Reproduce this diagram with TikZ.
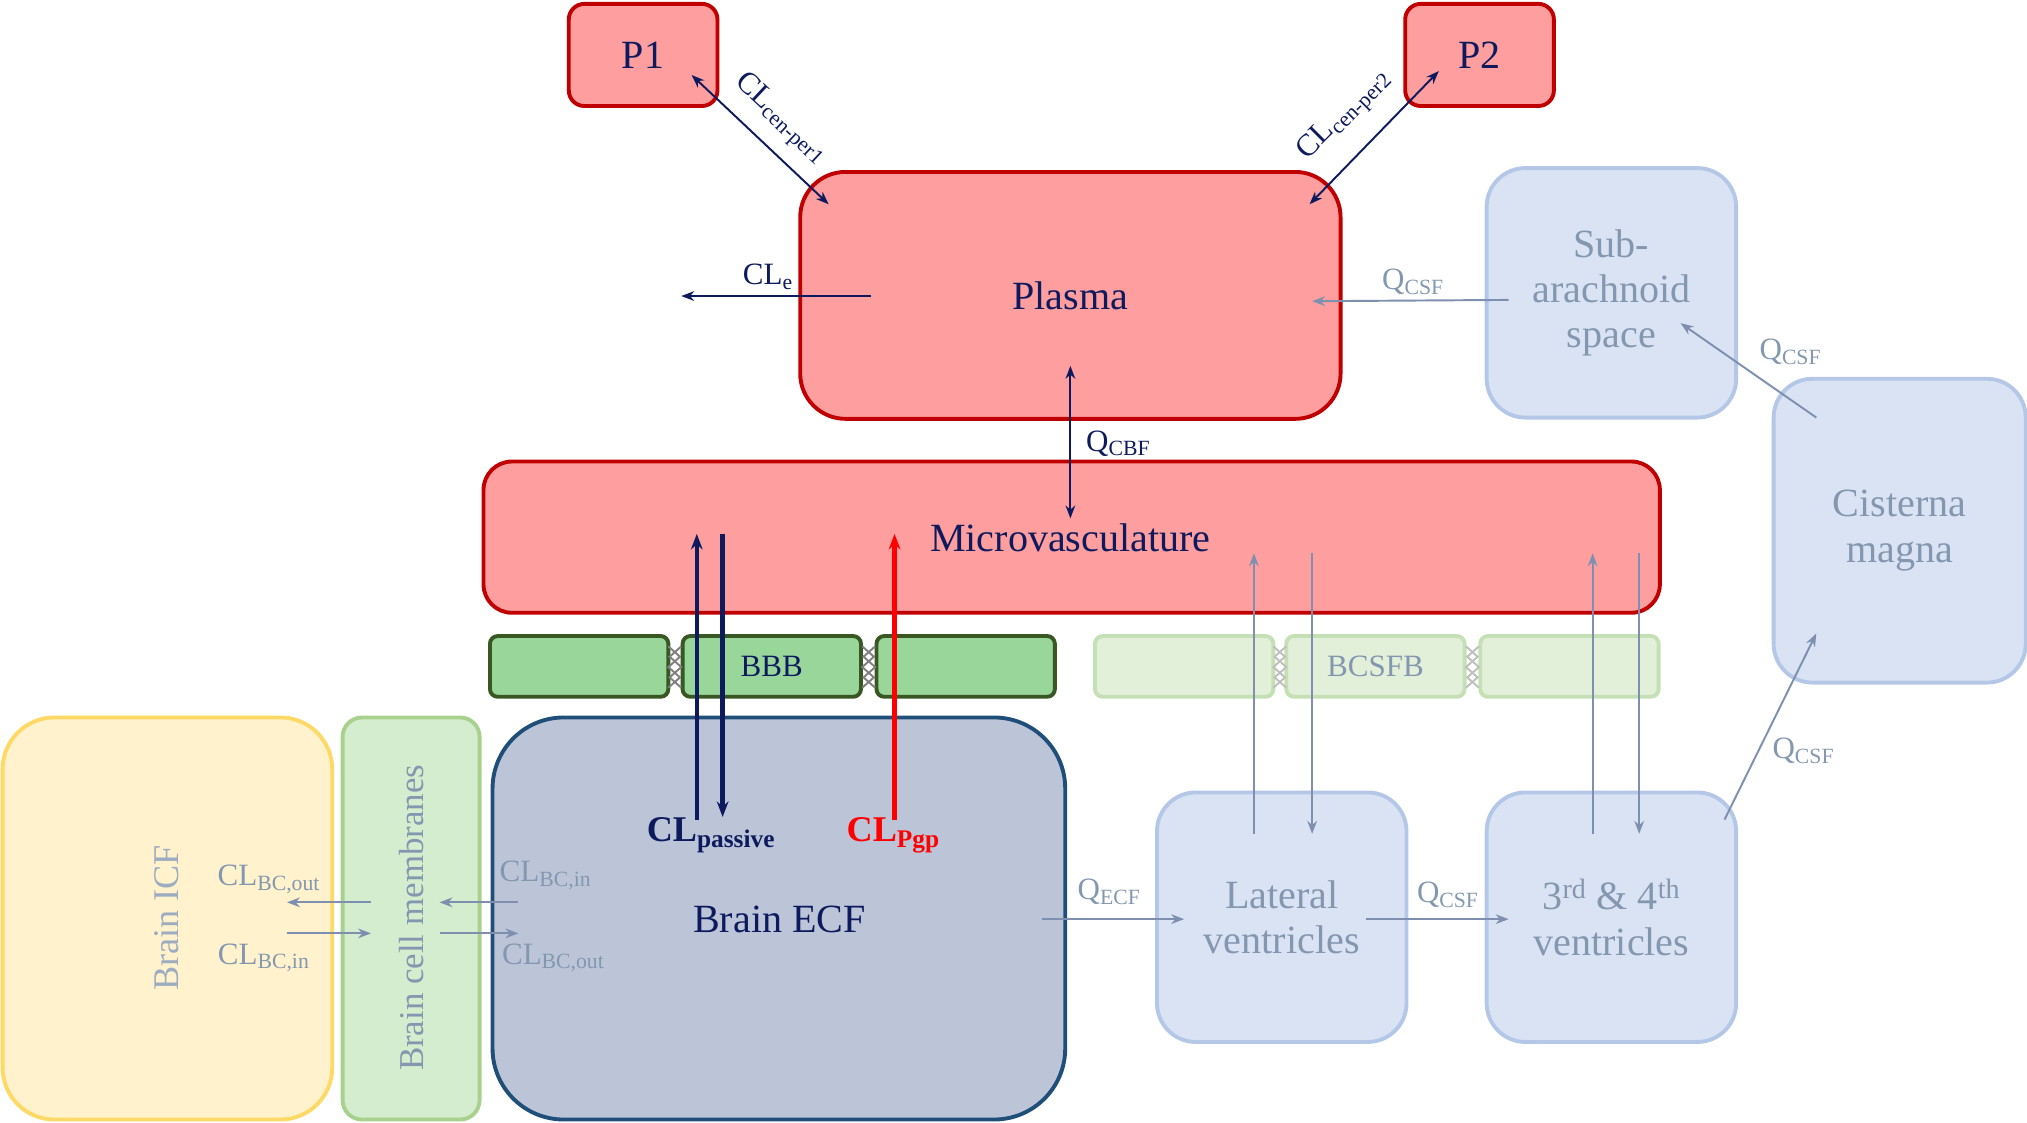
\documentclass[tikz,border=0pt]{standalone}
\usepackage{fontspec}
\setmainfont{Liberation Serif}
\usetikzlibrary{arrows.meta}
\definecolor{redf}{HTML}{FF9E9E}\definecolor{redb}{HTML}{C00000}
\definecolor{navy}{HTML}{0D1B5E}\definecolor{gb}{HTML}{7F8FB0}
\definecolor{gtext}{HTML}{8497B0}
\definecolor{dgf}{HTML}{99D699}\definecolor{dgb}{HTML}{385723}
\definecolor{lgf}{HTML}{E2F0D9}\definecolor{lgb}{HTML}{C5E0B4}
\definecolor{bluef}{HTML}{DAE3F3}\definecolor{blueb}{HTML}{B4C7E7}
\definecolor{ecff}{HTML}{BCC4D8}\definecolor{ecfb}{HTML}{1F4E79}
\definecolor{icff}{HTML}{FFF2CC}\definecolor{icfb}{HTML}{FFD966}
\definecolor{memf}{HTML}{D5EDCF}\definecolor{memb}{HTML}{A9D18E}
\tikzset{
 box/.style={draw,line width=3pt,inner sep=0pt,font=\fontsize{31}{35}\selectfont},
 red/.style={box,fill=redf,draw=redb,text=navy},
 lb/.style={box,fill=bluef,draw=blueb,text=gtext,align=center,rounded corners=30pt},
 cell/.style={draw,line width=3pt,rounded corners=6pt,minimum width=138pt,minimum height=47pt,font=\fontsize{24}{28}\selectfont},
 na/.style={-{Stealth[length=10pt]},line width=1.5pt,draw=navy},
 ga/.style={-{Stealth[length=10pt]},line width=1.5pt,draw=gb},
 lab/.style={font=\fontsize{24}{28}\selectfont,text=navy},
 glab/.style={font=\fontsize{24}{28}\selectfont,text=gtext},
}
\begin{document}
\begin{tikzpicture}[x=1pt,y=-1pt]
\useasboundingbox (0,0) rectangle (1568,868);
% boxes
\node[red,rounded corners=12pt,minimum width=115pt,minimum height=79pt] (p1) at (497.5,42.5) {P1};
\node[red,rounded corners=12pt,minimum width=115pt,minimum height=79pt] (p2) at (1144.5,42.5) {P2};
\node[red,rounded corners=35pt,minimum width=418pt,minimum height=191pt] (plasma) at (828,228.5) {Plasma};
\node[red,rounded corners=22pt,minimum width=910pt,minimum height=117pt] (micro) at (829,415.5) {};
\node[text=navy,font=\fontsize{31}{35}\selectfont] (microt) at (828,416) {Microvasculature};
\node[box,fill=icff,draw=icfb,rounded corners=40pt,minimum width=255pt,minimum height=311pt] (icf) at (129.5,710.5) {};
\node[rotate=90,text=gtext!80,font=\fontsize{28}{32}\selectfont] (icft) at (129,710) {Brain ICF};
\node[box,fill=memf,draw=memb,rounded corners=15pt,minimum width=106pt,minimum height=311pt] (mem) at (318,710.5) {};
\node[rotate=90,text=gtext,font=\fontsize{27}{31}\selectfont] (memt) at (318,710) {Brain cell membranes};
\node[box,fill=ecff,draw=ecfb,rounded corners=55pt,minimum width=443pt,minimum height=311pt] (ecf) at (602.5,710.5) {};
\node[text=navy,font=\fontsize{31}{35}\selectfont] (ecft) at (603,711) {Brain ECF};
\node[lb,minimum width=193pt,minimum height=193pt] (lat) at (991.5,709.5) {Lateral\\ventricles};
\node[lb,minimum width=193pt,minimum height=193pt] (v34) at (1246.5,709.5) {3\textsuperscript{rd} \& 4\textsuperscript{th}\\ventricles};
\node[lb,minimum width=193pt,minimum height=193pt] (sub) at (1246.5,226.5) {Sub-\\arachnoid\\space};
\node[lb,minimum width=195pt,minimum height=235pt] (cis) at (1469.5,410.5) {Cisterna\\magna};
% cells
\node[cell,fill=dgf,draw=dgb] (b1) at (448,515.5) {};
\node[cell,fill=dgf,draw=dgb,text=navy] (b2) at (597,515.5) {BBB};
\node[cell,fill=dgf,draw=dgb] (b3) at (747,515.5) {};
\node[cell,fill=lgf,draw=lgb] (c1) at (916,515.5) {};
\node[cell,fill=lgf,draw=lgb,text=gtext] (c2) at (1064,515.5) {BCSFB};
\node[cell,fill=lgf,draw=lgb] (c3) at (1214,515.5) {};
\foreach \x/\c in {522/gray,672/gray,990/gray!50,1139/gray!50}{
 \draw[\c,line width=1.5pt] (\x-5,500)--(\x+4,508)--(\x-5,516)--(\x+4,524)--(\x-5,532);
 \draw[\c,line width=1.5pt] (\x+5,500)--(\x-4,508)--(\x+5,516)--(\x-4,524)--(\x+5,532);}
% coordinates
\coordinate (a1) at (535,58); \coordinate (a2) at (641,158);
\coordinate (a3) at (1113,55); \coordinate (a4) at (1013,158);
\coordinate (e1) at (674,229); \coordinate (e2) at (527,229);
\coordinate (s1) at (1167,232); \coordinate (s2) at (1015,233);
\coordinate (k1) at (1405,323); \coordinate (k2) at (1300,250);
\coordinate (q1) at (828,283); \coordinate (q2) at (828,401);
\coordinate (pa1) at (539,634); \coordinate (pa2) at (539,413);
\coordinate (pb1) at (559,413); \coordinate (pb2) at (559,632);
\coordinate (g1) at (692,634); \coordinate (g2) at (692,413);
\coordinate (l1) at (970,645); \coordinate (l2) at (970,428);
\coordinate (l3) at (1015,428); \coordinate (l4) at (1015,645);
\coordinate (m1) at (1232,645); \coordinate (m2) at (1232,428);
\coordinate (m3) at (1268,428); \coordinate (m4) at (1268,645);
\coordinate (x1) at (806,711); \coordinate (x2) at (916,711);
\coordinate (y1) at (1057,711); \coordinate (y2) at (1167,711);
\coordinate (z1) at (1334,634); \coordinate (z2) at (1405,490);
\coordinate (n1) at (287,698); \coordinate (n2) at (222,698);
\coordinate (n3) at (222,722); \coordinate (n4) at (287,722);
\coordinate (o1) at (401,698); \coordinate (o2) at (340,698);
\coordinate (o3) at (340,722); \coordinate (o4) at (401,722);
% arrows
\draw[na,{Stealth[length=10pt]}-{Stealth[length=10pt]}] (a1)--(a2);
\draw[na,{Stealth[length=10pt]}-{Stealth[length=10pt]}] (a3)--(a4);
\draw[na] (e1)--(e2);
\draw[ga] (s1)--(s2);
\draw[ga] (k1)--(k2);
\draw[na,{Stealth[length=10pt]}-{Stealth[length=10pt]}] (q1)--(q2);
\draw[na,line width=3.5pt,-{Stealth[length=12pt]}] (pa1)--(pa2);
\draw[na,line width=3.5pt,-{Stealth[length=12pt]}] (pb1)--(pb2);
\draw[na,draw=red,line width=3.5pt,-{Stealth[length=12pt]}] (g1)--(g2);
\draw[ga] (l1)--(l2); \draw[ga] (l3)--(l4);
\draw[ga] (m1)--(m2); \draw[ga] (m3)--(m4);
\draw[ga] (x1)--(x2); \draw[ga] (y1)--(y2); \draw[ga] (z1)--(z2);
\draw[ga] (n1)--(n2); \draw[ga] (n3)--(n4);
\draw[ga] (o1)--(o2); \draw[ga] (o3)--(o4);
% labels
\node[lab,rotate=-43] (t1) at (604,92) {CL\textsubscript{cen-per1}};
\node[lab,rotate=45] (t2) at (1040,89) {CL\textsubscript{cen-per2}};
\node[lab] (t3) at (594,214) {CL\textsubscript{e}};
\node[glab] (t4) at (1093,218) {Q\textsubscript{CSF}};
\node[glab] (t5) at (1385,272) {Q\textsubscript{CSF}};
\node[lab] (t6) at (865,343) {Q\textsubscript{CBF}};
\node[lab,font=\bfseries\fontsize{28}{32}\selectfont] (t7) at (550,646) {CL\textsubscript{passive}};
\node[lab,text=red,font=\bfseries\fontsize{28}{32}\selectfont] (t8) at (691,646) {CL\textsubscript{Pgp}};
\node[glab] (t9) at (858,690) {Q\textsubscript{ECF}};
\node[glab] (t10) at (1120,692) {Q\textsubscript{CSF}};
\node[glab] (t11) at (1395,581) {Q\textsubscript{CSF}};
\node[glab] (t12) at (208,680) {CL\textsubscript{BC,out}};
\node[glab] (t13) at (204,741) {CL\textsubscript{BC,in}};
\node[glab] (t14) at (422,677) {CL\textsubscript{BC,in}};
\node[glab] (t15) at (428,741) {CL\textsubscript{BC,out}};
\end{tikzpicture}
\end{document}
